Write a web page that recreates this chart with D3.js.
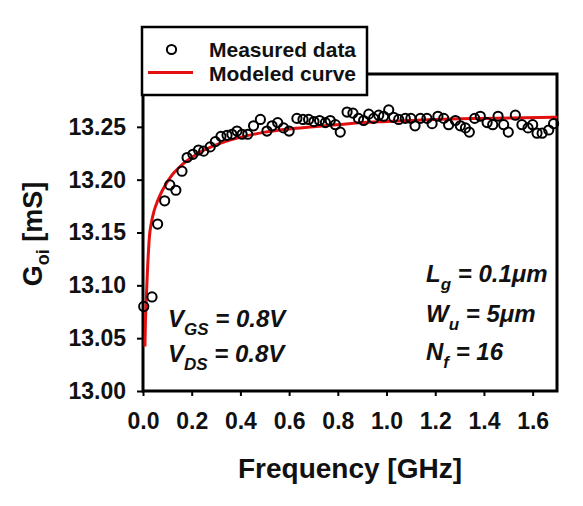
<!DOCTYPE html>
<html><head><meta charset="utf-8">
<script src="https://cdn.jsdelivr.net/npm/d3@7"></script>
<style>
html,body{margin:0;padding:0;background:#fff;}
text{font-family:"Liberation Sans",Arial,sans-serif;font-weight:bold;fill:#111;}
</style></head>
<body><svg id="c" width="583" height="506"></svg>
<script>
// Measured data (frequency GHz, Goi mS)
const measuredFreq = [0.003,0.037,0.060,0.089,0.110,0.135,0.160,0.181,0.205,0.228,0.249,0.276,0.297,0.320,0.345,0.365,0.386,0.407,0.430,0.454,0.482,0.509,0.530,0.553,0.577,0.600,0.632,0.657,0.680,0.702,0.725,0.749,0.769,0.790,0.810,0.838,0.862,0.885,0.906,0.927,0.947,0.968,0.988,1.009,1.029,1.050,1.077,1.100,1.117,1.139,1.166,1.187,1.211,1.235,1.255,1.283,1.303,1.324,1.340,1.362,1.385,1.413,1.436,1.458,1.481,1.500,1.529,1.556,1.581,1.600,1.618,1.639,1.666,1.686];
const measuredG = [13.080,13.089,13.158,13.180,13.195,13.190,13.208,13.221,13.224,13.228,13.227,13.231,13.236,13.241,13.242,13.243,13.246,13.243,13.243,13.251,13.257,13.246,13.251,13.254,13.249,13.246,13.258,13.257,13.257,13.255,13.256,13.254,13.256,13.252,13.245,13.264,13.263,13.258,13.256,13.262,13.258,13.261,13.260,13.266,13.259,13.257,13.258,13.258,13.251,13.258,13.258,13.253,13.260,13.258,13.252,13.256,13.251,13.249,13.245,13.258,13.260,13.254,13.252,13.260,13.252,13.245,13.261,13.252,13.249,13.252,13.244,13.244,13.247,13.253];
// Modeled curve
const modelFreq = [0.008,0.010,0.013,0.018,0.026,0.035,0.045,0.060,0.080,0.100,0.125,0.150,0.175,0.200,0.250,0.300,0.350,0.400,0.500,0.600,0.700,0.800,0.900,1.000,1.200,1.400,1.700];
const modelG = [13.042,13.065,13.085,13.112,13.145,13.160,13.170,13.180,13.190,13.198,13.206,13.212,13.217,13.221,13.228,13.233,13.237,13.240,13.245,13.248,13.250,13.252,13.254,13.255,13.257,13.258,13.259];
const xTicks = [0.0,0.2,0.4,0.6,0.8,1.0,1.2,1.4,1.6];
const yTicks = [13.00,13.05,13.10,13.15,13.20,13.25];
const legendLabels = ["Measured data","Modeled curve"];

const svg = d3.select("#c");
const L=143,R=557,T=74,B=391;
const x = d3.scaleLinear().domain([0,1.7]).range([L,R]);
const y = d3.scaleLinear().domain([13.0,13.3]).range([B,T]);
const FF='"Liberation Sans",Arial,sans-serif';

// axes
const ya = svg.append("g").attr("transform",`translate(${L},0)`)
  .call(d3.axisLeft(y).tickValues(yTicks).tickFormat(d3.format(".2f")).tickSize(6).tickPadding(11));
ya.select(".domain").remove();
ya.selectAll("line").attr("stroke","#000").attr("stroke-width",2);
ya.selectAll("text").style("font-size","23px").style("font-family",FF).style("font-weight","bold").attr("fill","#111");

const xa = svg.append("g").attr("transform",`translate(0,${B})`)
  .call(d3.axisBottom(x).tickValues(xTicks).tickFormat(d3.format(".1f")).tickSize(5).tickPadding(17));
xa.select(".domain").remove();
xa.selectAll("line").attr("stroke","#000").attr("stroke-width",2);
xa.selectAll("text").style("font-size","23px").style("font-family",FF).style("font-weight","bold").attr("fill","#111");

// frame
svg.append("rect").attr("x",L).attr("y",T).attr("width",R-L).attr("height",B-T)
  .attr("fill","none").attr("stroke","#000").attr("stroke-width",3);

// model curve
const model = modelFreq.map((f,i)=>[f,modelG[i]]);
svg.append("path").datum(model)
  .attr("d",d3.line().x(d=>x(d[0])).y(d=>y(d[1])).curve(d3.curveMonotoneX))
  .attr("fill","none").attr("stroke","#e41010").attr("stroke-width",3);

// measured points
const meas = measuredFreq.map((f,i)=>[f,measuredG[i]]);
svg.append("g").selectAll("circle").data(meas).join("circle")
  .attr("cx",d=>x(d[0])).attr("cy",d=>y(d[1])).attr("r",4.6)
  .attr("fill","none").attr("stroke","#000").attr("stroke-width",2);

// legend
svg.append("rect").attr("x",142).attr("y",27).attr("width",225).attr("height",68)
  .attr("fill","#fff").attr("stroke","#000").attr("stroke-width",2.5);
svg.append("circle").attr("cx",171.5).attr("cy",49.5).attr("r",4.6)
  .attr("fill","none").attr("stroke","#000").attr("stroke-width",2);
svg.append("line").attr("x1",148).attr("x2",193).attr("y1",72.5).attr("y2",72.5)
  .attr("stroke","#e41010").attr("stroke-width",3);
svg.selectAll("text.leg").data(legendLabels).join("text").attr("class","leg")
  .attr("x",209).attr("y",(d,i)=>57+i*23.5).style("font-size","21px").text(d=>d);

// axis titles
svg.append("text").attr("x",350).attr("y",478).attr("text-anchor","middle")
  .style("font-size","28px").text("Frequency [GHz]");
const yt = svg.append("text").attr("transform","translate(42,234) rotate(-90)")
  .attr("text-anchor","middle").style("font-size","27px");
yt.append("tspan").text("G");
yt.append("tspan").attr("dy",7).style("font-size","18px").text("oi");
yt.append("tspan").attr("dy",-7).text(" [mS]");

// annotations
function ann(xp,yp,main,sub,rest){
  const t = svg.append("text").attr("x",xp).attr("y",yp).style("font-size","24px").style("font-style","italic");
  t.append("tspan").text(main);
  t.append("tspan").attr("dy",8).style("font-size","17px").text(sub);
  t.append("tspan").attr("dy",-8).text(rest);
}
ann(168,327,"V","GS"," = 0.8V");
ann(168,362,"V","DS"," = 0.8V");
ann(426,282,"L","g"," = 0.1μm");
ann(426,322,"W","u"," = 5μm");
ann(426,360,"N","f"," = 16");
</script></body></html>
